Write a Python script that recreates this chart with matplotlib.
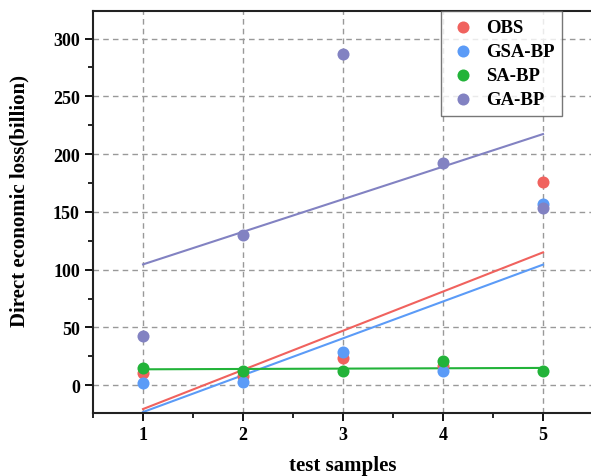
import numpy as np
import matplotlib.pyplot as plt
from matplotlib.ticker import MultipleLocator

samples = [1, 2, 3, 4, 5]
obs     = [11, 8, 24, 17, 176]
gsa_bp  = [2, 3, 29, 12, 157]
sa_bp   = [15, 12, 12, 21, 12]
ga_bp   = [43, 130, 287, 192, 153]

series = [('OBS', obs, '#F0625E'),
          ('GSA-BP', gsa_bp, '#5B9BF7'),
          ('SA-BP', sa_bp, '#22B339'),
          ('GA-BP', ga_bp, '#8282C2')]

plt.rcParams['font.family'] = ['Liberation Serif', 'DejaVu Serif']
plt.rcParams['font.weight'] = 'bold'

fig = plt.figure(figsize=(5.91, 4.77), dpi=100)
ax = fig.add_axes([0.1574, 0.1321, 0.846, 0.843])

x = np.array(samples, dtype=float)
for name, vals, col in series:
    ax.scatter(x, vals, s=75, color=col, label=name, zorder=3, linewidths=0)
for name, vals, col in series:
    # linear fit of each series
    k, b = np.polyfit(x, vals, 1)
    ax.plot(x, k * x + b, color=col, linewidth=1.5, zorder=2)

ax.set_xlim(0.5, 5.5)
ax.set_ylim(-24, 324)
ax.xaxis.set_major_locator(MultipleLocator(1))
ax.xaxis.set_minor_locator(MultipleLocator(0.5))
ax.yaxis.set_minor_locator(MultipleLocator(25))
ax.set_yticks([0, 50, 100, 150, 200, 250, 300])
ax.grid(True, which='major', linestyle='--', color='#999999', linewidth=1, dashes=(4, 3))
ax.set_axisbelow(True)

for sp in ax.spines.values():
    sp.set_linewidth(1.5)
    sp.set_color('#222222')
ax.spines['right'].set_visible(False)
ax.tick_params(which='major', direction='out', length=6, width=1.3, labelsize=13)
ax.tick_params(which='minor', direction='out', length=3.5, width=1.2)
for lab in ax.get_xticklabels() + ax.get_yticklabels():
    lab.set_fontweight('bold')

ax.set_xlabel('test samples', fontsize=15, fontweight='bold')
ax.xaxis.set_label_coords(0.5, -0.105)
ax.set_ylabel('Direct economic loss(billion)', fontsize=15, fontweight='bold')
ax.yaxis.set_label_coords(-0.128, 0.53)

leg = ax.legend(loc='upper right', bbox_to_anchor=(0.938, 1.0), borderaxespad=0,
                fontsize=13.5, frameon=True, fancybox=False, edgecolor='#555555',
                handletextpad=0.5, borderpad=0.4, labelspacing=0.38, handlelength=1.5,
                scatterpoints=1)
leg.get_frame().set_linewidth(1.0)
for t in leg.get_texts():
    t.set_fontweight('bold')

fig.savefig('out.png', dpi=100)
